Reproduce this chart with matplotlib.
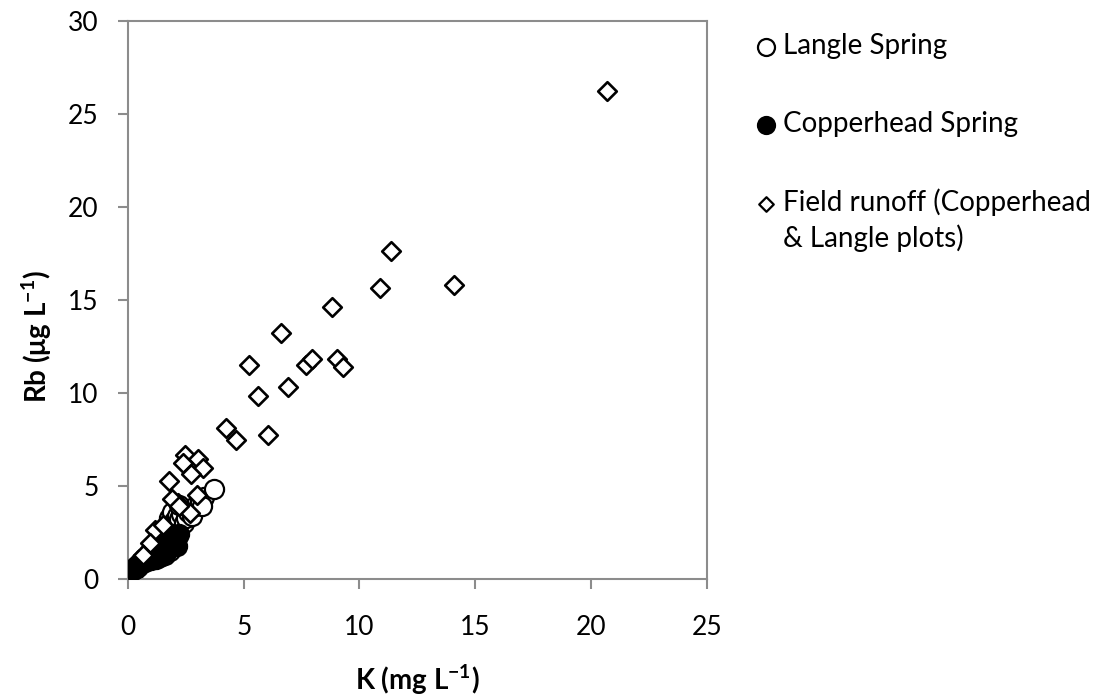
import matplotlib.pyplot as plt

# Langle Spring (open circles)
langle_k = [0.25, 0.35, 0.45, 0.55, 0.7, 0.8, 0.95, 1.05, 1.2, 1.3, 1.45, 1.55, 1.6, 1.7,
            1.75, 1.85, 1.9, 2.0, 2.1, 2.2, 2.3, 2.4, 2.5, 2.6, 2.75, 2.9, 3.1, 3.3, 3.7,
            1.8, 1.6, 1.4, 3.2, 2.2]
langle_rb = [0.45, 0.6, 0.7, 0.85, 1.0, 1.1, 1.3, 1.5, 1.7, 1.9, 2.1, 2.3, 2.6, 2.8,
             3.3, 3.0, 3.6, 3.1, 3.4, 3.2, 3.5, 3.0, 3.3, 3.6, 3.4, 3.9, 4.2, 4.4, 4.85,
             1.5, 1.3, 1.2, 3.9, 4.0]

# Copperhead Spring (filled circles)
copper_k = [0.2, 0.3, 0.35, 0.45, 0.5, 0.6, 0.65, 0.75, 0.8, 0.9, 1.0, 1.05, 1.15, 1.2,
            1.3, 1.35, 1.45, 1.5, 1.6, 1.7, 1.75, 1.85, 1.9, 2.0, 2.1, 2.2,
            0.5, 0.7, 0.9, 1.1, 1.3, 1.5, 1.7, 1.9, 2.1, 1.0, 1.2, 1.4, 1.6]
copper_rb = [0.5, 0.55, 0.7, 0.65, 0.8, 0.85, 0.95, 0.9, 1.05, 1.1, 1.2, 1.1, 1.3, 1.4,
             1.35, 1.5, 1.55, 1.7, 1.6, 1.8, 1.75, 1.9, 2.1, 2.0, 2.2, 2.4,
             0.9, 1.15, 1.4, 1.6, 1.8, 2.0, 2.2, 2.4, 1.8, 1.0, 1.1, 1.3, 1.4]

# Field runoff (diamonds)
runoff_k = [20.7, 14.08, 11.36, 10.88, 8.82, 6.61, 5.21, 7.69, 7.93, 9.04, 9.30, 5.63,
            6.89, 4.23, 4.65, 6.03, 2.46, 3.04, 3.25, 2.39, 2.74, 1.78, 2.99, 2.17, 2.68,
            1.17, 0.95, 0.63, 1.9, 2.2, 1.5]
runoff_rb = [26.25, 15.81, 17.63, 15.64, 14.64, 13.21, 11.5, 11.5, 11.83, 11.83, 11.42,
             9.86, 10.31, 8.14, 7.47, 7.76, 6.67, 6.43, 5.95, 6.22, 5.65, 5.27, 4.52,
             4.07, 3.53, 2.63, 1.92, 1.29, 4.3, 3.9, 2.9]

plt.rcParams['font.family'] = ['Lato', 'DejaVu Sans']
plt.rcParams['mathtext.fontset'] = 'custom'
plt.rcParams['mathtext.rm'] = 'Lato'
plt.rcParams['mathtext.bf'] = 'Lato:bold'

fig = plt.figure(figsize=(11.13, 6.99), dpi=100)
ax = fig.add_axes([0.115, 0.1717, 0.52, 0.7983])

ax.scatter(langle_k, langle_rb, s=190, facecolors='white', edgecolors='black',
           linewidths=1.6, label='Langle Spring', zorder=2)
ax.scatter(copper_k, copper_rb, s=190, facecolors='black', edgecolors='black',
           linewidths=1.6, label='Copperhead Spring', zorder=3)
ax.scatter(runoff_k, runoff_rb, s=90, marker='D', facecolors='white', edgecolors='black',
           linewidths=1.9, label='Field runoff (Copperhead', zorder=4)

ax.set_xlim(0, 25)
ax.set_ylim(0, 30)
ax.set_xticks(range(0, 26, 5))
ax.set_yticks(range(0, 31, 5))
for sp in ax.spines.values():
    sp.set_color('#8c8c8c')
    sp.set_linewidth(1.5)
ax.tick_params(direction='out', length=7, width=1.5, color='#8c8c8c', labelsize=19)
ax.tick_params(axis='x', pad=19)
ax.tick_params(axis='y', pad=14)

ax.set_xlabel(r'K (mg L$^{\mathbf{-1}}$)', fontsize=20, fontweight='bold', labelpad=16)
ax.set_ylabel(r'Rb ($\mathbf{\mu}$g L$^{\mathbf{-1}}$)', fontsize=20, fontweight='bold')
ax.yaxis.set_label_coords(-0.128, 0.434)

leg = ax.legend(loc='upper left', bbox_to_anchor=(1.06, 1.0), frameon=False,
                fontsize=20, handletextpad=0.15, labelspacing=1.85, handlelength=0.9,
                borderaxespad=0.2, borderpad=0.25)
leg.legend_handles[0].set_sizes([150])
leg.legend_handles[1].set_sizes([150])
leg.legend_handles[2].set_sizes([55])
leg.legend_handles[2].set_linewidths([1.6])

# second line of the runoff label, aligned under the first
fig.canvas.draw()
bb = leg.get_texts()[2].get_window_extent()
fig.text(bb.x0 / fig.bbox.width, (bb.y0 - 36) / fig.bbox.height, '& Langle plots)',
         fontsize=20, ha='left', va='bottom')

fig.savefig('out.png', dpi=100)
